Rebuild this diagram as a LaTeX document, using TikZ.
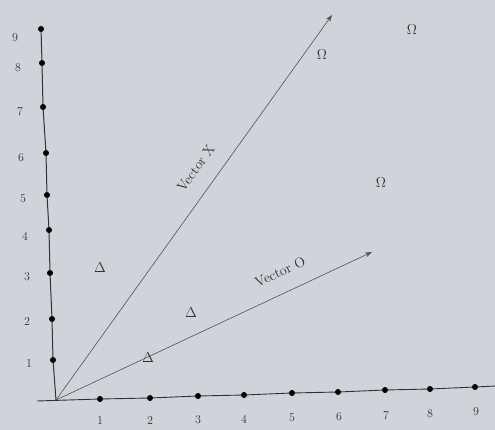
\documentclass[tikz,border=0pt]{standalone}
\usetikzlibrary{arrows.meta}
\definecolor{paper}{RGB}{208,212,216}
\definecolor{ink}{RGB}{50,50,52}
\tikzset{
  dot/.style = {circle, fill = black, inner sep = 0pt, minimum size = 6pt},
  num/.style = {font = \fontsize{12}{14}\selectfont, text = ink},
  tag/.style = {font = \fontsize{14}{16}\selectfont, text = ink},
  vec/.style = {draw = ink!85, line width = 0.6pt, -{Stealth[length = 7pt, width = 5pt]}}
}
\begin{document}
\begin{tikzpicture}[x = 1pt, y = -1pt]
                    \fill[paper] (0, 0) rectangle (495, 430);
                    \useasboundingbox (0, 0) rectangle (495, 430);

                    % origin and axis ends
                    \coordinate (o)  at ( 56, 400);
                    \coordinate (xl) at ( 37, 401);
                    \coordinate (xr) at (495, 386);

                    % points on the horizontal axis
                    \node[dot] (x1) at (100, 399) {};
                    \node[dot] (x2) at (150, 398) {};
                    \node[dot] (x3) at (198, 396) {};
                    \node[dot] (x4) at (244, 395) {};
                    \node[dot] (x5) at (292, 393) {};
                    \node[dot] (x6) at (338, 392) {};
                    \node[dot] (x7) at (385, 390) {};
                    \node[dot] (x8) at (430, 389) {};
                    \node[dot] (x9) at (475, 387) {};

                    % points on the vertical axis
                    \node[dot] (y1) at ( 53, 360) {};
                    \node[dot] (y2) at ( 52, 319) {};
                    \node[dot] (y3) at ( 50, 273) {};
                    \node[dot] (y4) at ( 49, 230) {};
                    \node[dot] (y5) at ( 47, 195) {};
                    \node[dot] (y6) at ( 46, 153) {};
                    \node[dot] (y7) at ( 43, 107) {};
                    \node[dot] (y8) at ( 42,  63) {};
                    \node[dot] (y9) at ( 41,  29) {};

                    \draw[ink, line width = 0.9pt] (xl) -- (x1) -- (x2) -- (x3) -- (x4) -- (x5) -- (x6) -- (x7) -- (x8) -- (x9) -- (xr);
                    \draw[ink, line width = 1pt] (o) -- (y1) -- (y2) -- (y3) -- (y4) -- (y5) -- (y6) -- (y7) -- (y8) -- (y9);

                    % numbers
                    \node[num] (lx1) at (100, 421) {1};
                    \node[num] (lx2) at (150, 421) {2};
                    \node[num] (lx3) at (198, 420) {3};
                    \node[num] (lx4) at (244, 419) {4};
                    \node[num] (lx5) at (292, 418) {5};
                    \node[num] (lx6) at (339, 417) {6};
                    \node[num] (lx7) at (386, 416) {7};
                    \node[num] (lx8) at (430, 414) {8};
                    \node[num] (lx9) at (476, 412) {9};

                    \node[num] (ly1) at ( 29, 364) {1};
                    \node[num] (ly2) at ( 27, 322) {2};
                    \node[num] (ly3) at ( 27, 277) {3};
                    \node[num] (ly4) at ( 25, 236) {4};
                    \node[num] (ly5) at ( 23, 199) {5};
                    \node[num] (ly6) at ( 21, 158) {6};
                    \node[num] (ly7) at ( 20, 112) {7};
                    \node[num] (ly8) at ( 18,  68) {8};
                    \node[num] (ly9) at ( 15,  38) {9};

                    % vectors
                    \coordinate (tx) at (332,  15);
                    \coordinate (to) at (372, 252);
                    \draw[vec] (o) -- (tx);
                    \draw[vec] (o) -- (to);
                    \node[tag, rotate = 54] (vx) at (196, 168) {Vector X};
                    \node[tag, rotate = 25] (vo) at (280, 272) {Vector O};

                    % regions
                    \node[tag] (a1) at (100, 268) {$\Delta$};
                    \node[tag] (a2) at (191, 313) {$\Delta$};
                    \node[tag] (a3) at (148, 358) {$\Delta$};
                    \node[tag] (b1) at (322,  55) {$\Omega$};
                    \node[tag] (b2) at (412,  30) {$\Omega$};
                    \node[tag] (b3) at (381, 183) {$\Omega$};
                \end{tikzpicture}
\end{document}
